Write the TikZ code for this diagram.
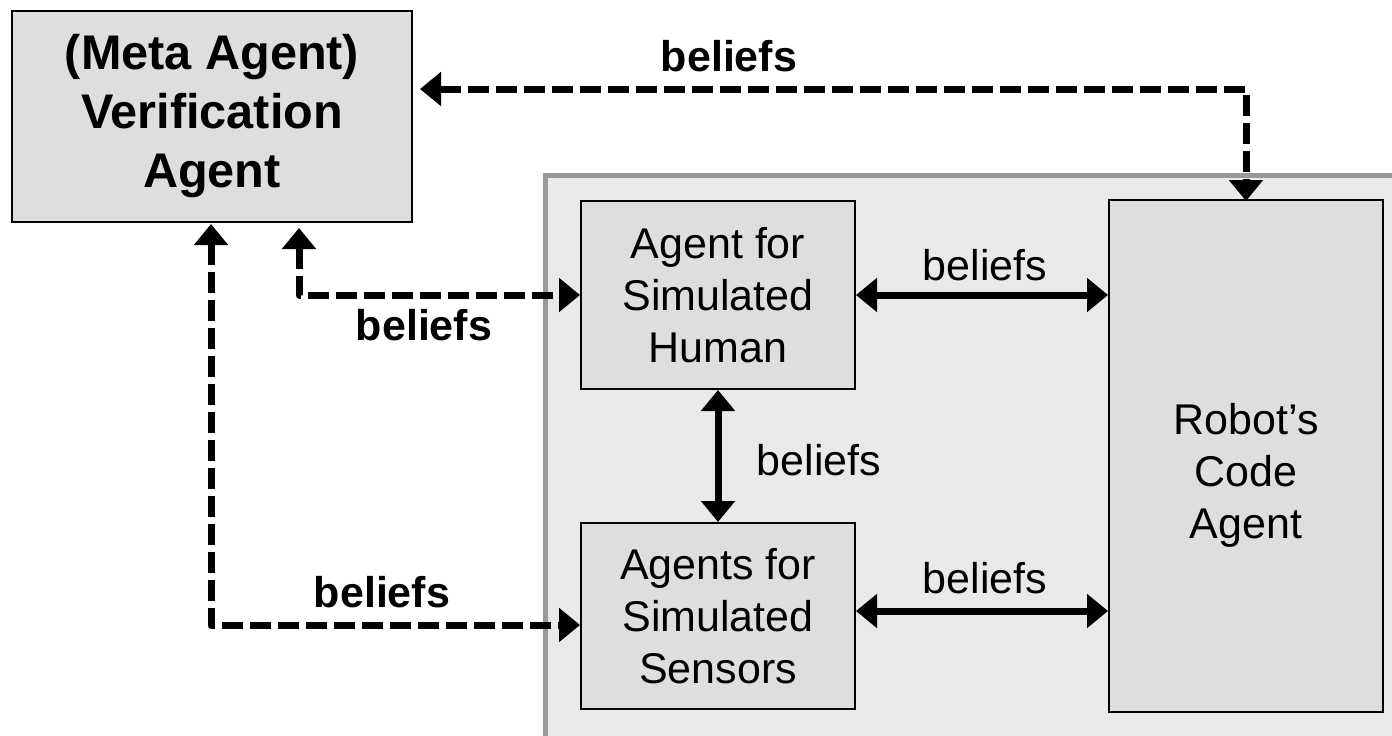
\documentclass[tikz,border=0pt]{standalone}
\usepackage{fontspec}
\setmainfont{Liberation Sans}
\usetikzlibrary{arrows.meta,calc}
\definecolor{boxgray}{HTML}{DEDEDE}
\definecolor{panelgray}{HTML}{E9E9E9}
\definecolor{framegray}{HTML}{999999}

\begin{document}
\begin{tikzpicture}[x=1pt,y=-1pt,
  >={Triangle[length=21pt,width=33pt]},
  agentbox/.style={draw=black, line width=2pt, fill=boxgray, align=center,
    inner sep=0pt, font=\fontsize{43}{52}\selectfont},
  metabox/.style={agentbox, font=\fontsize{48.6}{59}\selectfont\bfseries},
  solidlink/.style={line width=7pt, <->},
  dashlink/.style={line width=7pt, dash pattern=on 21pt off 7pt, line join=round, <->},
  plainlabel/.style={inner sep=0pt, anchor=base, font=\fontsize{43}{52}\selectfont},
  boldlabel/.style={plainlabel, font=\fontsize{43}{52}\selectfont\bfseries}]

\useasboundingbox (0,0) rectangle (1392,736);
\clip (0,0) rectangle (1392,736);
\fill[white] (0,0) rectangle (1392,736);

% simulation panel (runs off the right and bottom edges)
\draw[framegray, fill=panelgray, line width=5pt] (545,175) rectangle (1440,790);

% agents
\node[metabox, minimum width=400pt, minimum height=211pt] (verif) at (212,116.5)
  {(Meta Agent)\\Verification\\Agent};
\node[agentbox, minimum width=274pt, minimum height=188pt] (human) at (718,295)
  {Agent for\\Simulated\\Human};
\node[agentbox, minimum width=274pt, minimum height=186pt] (sensors) at (718,616)
  {Agents for\\Simulated\\Sensors};
\node[agentbox, minimum width=274pt, minimum height=512pt] (robot) at (1246,456) {};
\node[inner sep=0pt, align=center, font=\fontsize{43}{52}\selectfont] (robottext)
  at (1246,475) {Robot’s\\Code\\Agent};

% belief exchanges with the verification agent
\draw[dashlink] ($(verif.east)+(7,-27.5)$) -| ([yshift=-2pt]robot.north);
\draw[dashlink] ($(verif.south west)+(288,5)$) |- (human.west);
\draw[dashlink] ($(verif.south west)+(200,1)$) |- ($(sensors.west)+(0,9)$);

% belief exchanges inside the simulation
\coordinate (sensorlink) at ($(sensors.east)+(0,-5)$);
\draw[solidlink] (human.east) -- (robot.west |- human.east);
\draw[solidlink] (sensorlink) -- (robot.west |- sensorlink);
\draw[solidlink] (human.south) -- (sensors.north);

% labels
\node[boldlabel] (lbltop) at (729,71) {beliefs};
\node[boldlabel] (lblhuman) at (424,340) {beliefs};
\node[boldlabel] (lblsensors) at (382,607) {beliefs};
\node[plainlabel] (lblhr) at (985,280) {beliefs};
\node[plainlabel] (lblhs) at (819,475) {beliefs};
\node[plainlabel] (lblsr) at (985,593) {beliefs};
\end{tikzpicture}
\end{document}
